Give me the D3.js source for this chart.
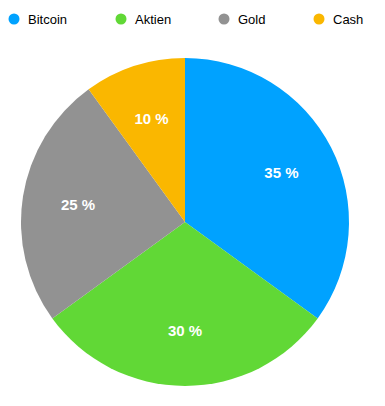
<!DOCTYPE html>
<html><head><meta charset="utf-8">
<script src="https://cdn.jsdelivr.net/npm/d3@7"></script>
<style>body{margin:0;background:#fff;}svg{display:block;font-family:"Liberation Sans",Arial,Helvetica,sans-serif;}</style>
</head><body>
<svg id="c" width="385" height="406"></svg>
<script>
const categories = ["Bitcoin","Aktien","Gold","Cash"];
const values = [35,30,25,10];
const colors = ["#00A2FF","#61D836","#929292","#FAB700"];
const legendX = [14,121,224,319];

const svg = d3.select("#c");
const cx = 185, cy = 222, R = 164;
const pie = d3.pie().sort(null).value(d=>d.v);
const data = pie(categories.map((c,i)=>({c, v:values[i], col:colors[i]})));
const arc = d3.arc().innerRadius(0).outerRadius(R);
const labelArc = d3.arc().innerRadius(R*0.66).outerRadius(R*0.66);
const g = svg.append("g").attr("transform",`translate(${cx},${cy})`);
g.selectAll("path").data(data).join("path").attr("d",arc).attr("fill",d=>d.data.col);
g.selectAll("text").data(data).join("text")
  .attr("transform",d=>`translate(${labelArc.centroid(d)})`)
  .attr("text-anchor","middle").attr("dy","0.36em")
  .attr("fill","#fff").attr("font-size",15).attr("font-weight","bold")
  .text(d=>d.data.v+" %");

const lg = svg.append("g");
categories.forEach((c,i)=>{
  lg.append("circle").attr("cx",legendX[i]).attr("cy",19).attr("r",5.5).attr("fill",colors[i]);
  lg.append("text").attr("x",legendX[i]+14).attr("y",23.5).attr("font-size",13).attr("fill","#000").text(c);
});
</script>
</body></html>
